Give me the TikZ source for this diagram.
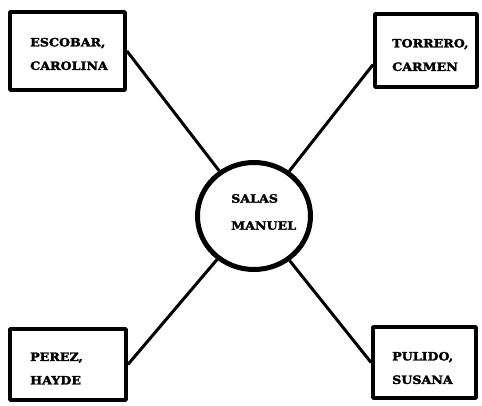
\documentclass[tikz,border=0pt]{standalone}
\usepackage{fontspec}
\usetikzlibrary{shapes.geometric}
\newfontfamily\namefont{DejaVu Serif}[FakeStretch=1.1,FakeBold=2.2]
\begin{document}
\begin{tikzpicture}[x=1pt,y=-1pt,
  personbox/.style={draw,line width=3.8pt,rectangle,inner sep=0pt,line join=round},
  hub/.style={draw,line width=5pt,ellipse,inner sep=0pt,minimum width=113pt,minimum height=107pt},
  namelbl/.style={align=left,inner sep=0pt,anchor=west,
    font=\namefont\bfseries\fontsize{11.5}{23.5}\selectfont},
  tie/.style={line width=3pt}]
\useasboundingbox (0,0) rectangle (482,406);
% outer boxes
\node[personbox,minimum width=115pt,minimum height=78pt] (escobar) at (67.5,51) {};
\node[personbox,minimum width=102pt,minimum height=73pt] (torrero) at (426,50.5) {};
\node[personbox,minimum width=116pt,minimum height=71pt] (perez) at (68,364.5) {};
\node[personbox,minimum width=103pt,minimum height=71pt] (pulido) at (424.5,362.5) {};
% central person
\node[hub] (salas) at (254,216) {};
\node[namelbl,font=\namefont\bfseries\fontsize{11.5}{27}\selectfont] (salast) at (231,212) {SALAS\\MANUEL};
% names
\node[namelbl] (escobart) at (30,54) {ESCOBAR,\\CAROLINA};
\node[namelbl] (torrerot) at (392,55) {TORRERO,\\CARMEN};
\node[namelbl] (perezt) at (30,368.5) {PEREZ,\\HAYDE};
\node[namelbl] (pulidot) at (392,368) {PULIDO,\\SUSANA};
% links to the centre
\draw[tie] (escobar.east) -- (salas);
\draw[tie] ([yshift=-14pt]torrero.west) -- (salas);
\draw[tie] (perez.east) -- (salas);
\draw[tie] (pulido.west) -- (salas);
\end{tikzpicture}
\end{document}
